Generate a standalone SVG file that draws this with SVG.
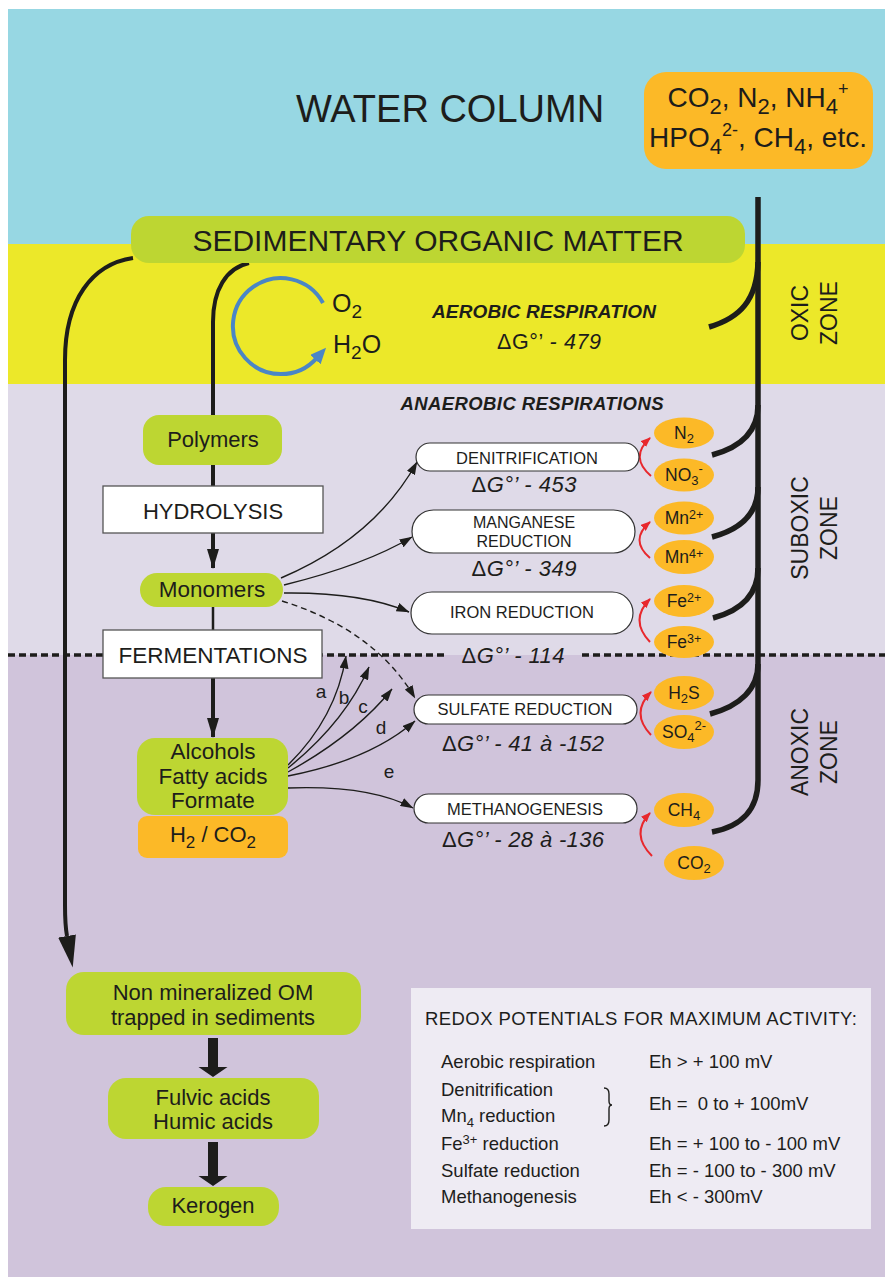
<svg xmlns="http://www.w3.org/2000/svg" width="885" height="1277" viewBox="0 0 885 1277">
<defs>
<style>
.t{font-family:'Liberation Sans',Arial,Helvetica,sans-serif;fill:#1d1d1b;}
.green{fill:#BDD632;}
.orange{fill:#FCB927;}
.pill{fill:#fff;stroke:#333;stroke-width:1.2;}
.box{fill:#fff;stroke:#555;stroke-width:1.3;}
.conn{fill:none;stroke:#1d1d1b;stroke-linecap:butt;}
.thin{stroke-width:1.4;}
.red{fill:none;stroke:#E8282D;stroke-width:2;}
.pt{font-size:16.5px;}
.dg{font-size:22px;}
.gas{font-size:17.5px;}
.tb{font-size:18.5px;}
.zone{font-size:23px;}
</style>
<marker id="ah" markerUnits="userSpaceOnUse" markerWidth="13" markerHeight="9" refX="12.5" refY="4.5" orient="auto" viewBox="0 0 13 9">
<path d="M0,0 L13,4.5 L0,9 z" fill="#1d1d1b"/>
</marker>
<marker id="ahT" markerUnits="userSpaceOnUse" markerWidth="20" markerHeight="12" refX="19" refY="6" orient="auto" viewBox="0 0 20 12">
<path d="M0,0 L20,6 L0,12 z" fill="#1d1d1b"/>
</marker>
<marker id="ahL" markerUnits="userSpaceOnUse" markerWidth="32" markerHeight="18" refX="0" refY="9" orient="auto" viewBox="0 0 32 18">
<path d="M0,0 L32,9 L0,18 z" fill="#1d1d1b"/>
</marker>
<marker id="ahR" markerUnits="userSpaceOnUse" markerWidth="10" markerHeight="8" refX="9" refY="4" orient="auto" viewBox="0 0 10 8">
<path d="M0,0 L10,4 L0,8 z" fill="#E8282D"/>
</marker>
<marker id="ahB" markerUnits="userSpaceOnUse" markerWidth="16" markerHeight="14" refX="2" refY="7" orient="auto" viewBox="0 0 16 14">
<path d="M0,0 L16,7 L0,14 z" fill="#4A86C5"/>
</marker>
</defs>

<g id="background">
<rect x="0" y="0" width="885" height="1277" fill="#ffffff"/>
<rect x="8" y="9" width="877" height="235" fill="#97D7E3"/>
<rect x="8" y="244" width="877" height="140" fill="#ECE829"/>
<rect x="8" y="384" width="877" height="271" fill="#DFDAE8"/>
<rect x="8" y="655" width="877" height="622" fill="#D0C4DB"/>
<g fill="none" stroke="#1d1d1b" stroke-width="3.5" stroke-dasharray="7 4">
<line x1="8" y1="655" x2="446" y2="655"/>
<line x1="582" y1="655" x2="885" y2="655"/>
</g>
</g>

<g id="zone-labels" class="t zone" text-anchor="middle">
<text transform="translate(808,313) rotate(-90)">OXIC</text>
<text transform="translate(837,313) rotate(-90)">ZONE</text>
<text transform="translate(808,528) rotate(-90)">SUBOXIC</text>
<text transform="translate(837,528) rotate(-90)">ZONE</text>
<text transform="translate(808,752) rotate(-90)">ANOXIC</text>
<text transform="translate(837,752) rotate(-90)">ZONE</text>
</g>

<g id="water-column-title">
<text class="t" x="450" y="122" font-size="38" text-anchor="middle">WATER COLUMN</text>
</g>

<g id="connectors">
<path class="conn" stroke-width="5.5" d="M758 197 L758 780 C758 810 742 826 712 832"/>
<path class="conn" stroke-width="5.5" d="M709 327 C740 318 757 300 758 262"/>
<path class="conn" stroke-width="5.5" d="M712 455 C742 447 758 430 758 405"/>
<path class="conn" stroke-width="5.5" d="M712 537 C742 529 758 512 758 487"/>
<path class="conn" stroke-width="5.5" d="M713 618 C743 610 758 593 758 568"/>
<path class="conn" stroke-width="5.5" d="M710 714 C740 706 758 689 758 664"/>
<path class="conn" stroke-width="4" d="M133 258 C92 264 65 300 65 360 L65 905 Q65 925 67 936" marker-end="url(#ahL)"/>
<path class="conn" stroke-width="4" d="M249 263 C226 268 213 290 213 322 L213 415"/>
<path fill="none" stroke="#4A86C5" stroke-width="4" d="M323 303 A48 48 0 1 0 316.7 358.1" marker-end="url(#ahB)"/>
<line class="conn" stroke-width="4" x1="213" y1="465" x2="213" y2="486"/>
<line class="conn" stroke-width="4" x1="213" y1="533" x2="213" y2="568" marker-end="url(#ahT)"/>
<line class="conn" stroke-width="2.5" x1="213" y1="607" x2="213" y2="630"/>
<line class="conn" stroke-width="4" x1="213" y1="678" x2="213" y2="737" marker-end="url(#ahT)"/>
<path class="conn thin" d="M281 578 Q375 538 417 462" marker-end="url(#ah)"/>
<path class="conn thin" d="M284 585 Q365 565 412 537" marker-end="url(#ah)"/>
<path class="conn thin" d="M284 593 Q362 592 409 612" marker-end="url(#ah)"/>
<path class="conn thin" stroke-dasharray="6 4" d="M282 601 Q375 630 415 698" marker-end="url(#ah)"/>
<path class="conn thin" d="M288 765 Q336 718 346 656" marker-end="url(#ah)"/>
<path class="conn thin" d="M288 768 Q345 722 369 667" marker-end="url(#ah)"/>
<path class="conn thin" d="M288 772 Q355 735 392 689" marker-end="url(#ah)"/>
<path class="conn thin" d="M288 776 Q370 760 415 721" marker-end="url(#ah)"/>
<path class="conn thin" d="M288 788 Q370 785 413 808" marker-end="url(#ah)"/>
<path class="red" d="M651 476 Q629 457 650 438" marker-end="url(#ahR)"/>
<path class="red" d="M650 558 Q629 540 650 522" marker-end="url(#ahR)"/>
<path class="red" d="M650 642 Q629 620 650 599" marker-end="url(#ahR)"/>
<path class="red" d="M651 735 Q630 713 651 692" marker-end="url(#ahR)"/>
<path class="red" d="M652 856 Q630 834 650 813" marker-end="url(#ahR)"/>
<polygon fill="#1d1d1b" points="208,1038 218,1038 218,1067 227.5,1067 213,1077 198.5,1067 208,1067"/>
<polygon fill="#1d1d1b" points="208,1142 218,1142 218,1176 227.5,1176 213,1186 198.5,1176 208,1176"/>
</g>

<g id="arrow-labels" class="t" font-size="19" text-anchor="middle">
<text x="321" y="698">a</text>
<text x="344" y="704">b</text>
<text x="363" y="713">c</text>
<text x="381" y="734">d</text>
<text x="389" y="778">e</text>
</g>

<g id="dissolved-products">
<rect class="orange" x="644" y="72" width="229" height="97" rx="22"/>
<text class="t" x="758" y="107" font-size="28" text-anchor="middle">CO<tspan dy="7" font-size="22">2</tspan><tspan dy="-7">, N</tspan><tspan dy="7" font-size="22">2</tspan><tspan dy="-7">, NH</tspan><tspan dy="7" font-size="22">4</tspan><tspan dy="-19" font-size="18">+</tspan></text>
<text class="t" x="758" y="147" font-size="28" text-anchor="middle">HPO<tspan dy="7" font-size="22">4</tspan><tspan dy="-18" font-size="18">2-</tspan><tspan dy="11">, CH</tspan><tspan dy="7" font-size="22">4</tspan><tspan dy="-7">, etc.</tspan></text>
</g>

<g id="sedimentary-organic-matter">
<rect class="green" x="131" y="216" width="614" height="47" rx="18"/>
<text class="t" x="438" y="251" font-size="30" text-anchor="middle">SEDIMENTARY ORGANIC MATTER</text>
</g>

<g id="oxygen-cycle" class="t" font-size="25">
<text x="332" y="312">O<tspan dy="6" font-size="19">2</tspan></text>
<text x="333" y="353">H<tspan dy="6" font-size="19">2</tspan><tspan dy="-6">O</tspan></text>
</g>

<g id="aerobic-respiration" class="t" text-anchor="middle">
<text x="544" y="318" font-size="19" font-weight="bold" font-style="italic" textLength="224">AEROBIC RESPIRATION</text>
<text x="549" y="349" font-size="21.5" textLength="104">ΔG°’ <tspan font-style="italic">- 479</tspan></text>
</g>

<g id="anaerobic-title">
<text class="t" x="532" y="410" font-size="18.5" font-weight="bold" font-style="italic" text-anchor="middle" textLength="263">ANAEROBIC RESPIRATIONS</text>
</g>

<g id="polymers">
<rect class="green" x="143" y="415" width="139" height="50" rx="16"/>
<text class="t" x="213" y="447" font-size="22" text-anchor="middle">Polymers</text>
</g>
<g id="hydrolysis">
<rect class="box" x="103" y="486" width="220" height="47"/>
<text class="t" x="213" y="519" font-size="22" text-anchor="middle">HYDROLYSIS</text>
</g>
<g id="monomers">
<rect class="green" x="140" y="573" width="143" height="34" rx="17"/>
<text class="t" x="212" y="597" font-size="22.5" text-anchor="middle">Monomers</text>
</g>
<g id="fermentations">
<rect class="box" x="103" y="630" width="219" height="48"/>
<text class="t" x="213" y="663" font-size="22.5" text-anchor="middle">FERMENTATIONS</text>
</g>
<g id="fermentation-products">
<rect class="green" x="137" y="738" width="151" height="77" rx="18"/>
<text class="t" x="213" y="759" font-size="22.5" text-anchor="middle">Alcohols</text>
<text class="t" x="213" y="784" font-size="22.5" text-anchor="middle">Fatty acids</text>
<text class="t" x="213" y="808" font-size="22.5" text-anchor="middle">Formate</text>
</g>
<g id="h2-co2">
<rect class="orange" x="138" y="816" width="150" height="42" rx="9"/>
<text class="t" x="213" y="842" font-size="22" text-anchor="middle">H<tspan dy="6" font-size="17">2</tspan><tspan dy="-6"> / CO</tspan><tspan dy="6" font-size="17">2</tspan></text>
</g>

<g id="denitrification">
<rect class="pill" x="416" y="443" width="223" height="28" rx="14"/>
<text class="t pt" x="527" y="464" text-anchor="middle">DENITRIFICATION</text>
<text class="t dg" x="524" y="492" text-anchor="middle" textLength="105">Δ<tspan font-style="italic">G°’ - 453</tspan></text>
</g>
<g id="manganese-reduction">
<rect class="pill" x="412" y="510" width="223" height="43" rx="21.5"/>
<text class="t" x="524" y="528" font-size="16" text-anchor="middle">MANGANESE</text>
<text class="t" x="524" y="547" font-size="16" text-anchor="middle">REDUCTION</text>
<text class="t dg" x="524" y="576" text-anchor="middle" textLength="105">Δ<tspan font-style="italic">G°’ - 349</tspan></text>
</g>
<g id="iron-reduction">
<rect class="pill" x="411" y="592" width="222" height="42" rx="21"/>
<text class="t pt" x="522" y="618" text-anchor="middle">IRON REDUCTION</text>
<text class="t dg" x="513" y="663" text-anchor="middle" textLength="103">Δ<tspan font-style="italic">G°’ - 114</tspan></text>
</g>
<g id="sulfate-reduction">
<rect class="pill" x="414" y="695" width="223" height="29" rx="14.5"/>
<text class="t pt" x="525" y="715" text-anchor="middle">SULFATE REDUCTION</text>
<text class="t dg" x="523" y="751" text-anchor="middle" textLength="162">Δ<tspan font-style="italic">G°’ - 41 à -152</tspan></text>
</g>
<g id="methanogenesis">
<rect class="pill" x="414" y="794" width="223" height="29" rx="14.5"/>
<text class="t pt" x="525" y="815" text-anchor="middle">METHANOGENESIS</text>
<text class="t dg" x="523" y="847" text-anchor="middle" textLength="162">Δ<tspan font-style="italic">G°’ - 28 à -136</tspan></text>
</g>

<g id="gas-n2"><ellipse class="orange" cx="684" cy="433" rx="30" ry="15.5"/><text class="t gas" x="684" y="439" text-anchor="middle">N<tspan dy="4" font-size="13">2</tspan></text></g>
<g id="gas-no3"><ellipse class="orange" cx="684" cy="475" rx="30" ry="16.5"/><text class="t gas" x="684" y="481" text-anchor="middle">NO<tspan dy="4" font-size="13">3</tspan><tspan dy="-12" font-size="13">-</tspan></text></g>
<g id="gas-mn2"><ellipse class="orange" cx="684" cy="518" rx="30" ry="16.5"/><text class="t gas" x="684" y="524" text-anchor="middle">Mn<tspan dy="-5" font-size="12.5">2+</tspan></text></g>
<g id="gas-mn4"><ellipse class="orange" cx="684" cy="557" rx="30" ry="17"/><text class="t gas" x="684" y="563" text-anchor="middle">Mn<tspan dy="-5" font-size="12.5">4+</tspan></text></g>
<g id="gas-fe2"><ellipse class="orange" cx="684" cy="601" rx="30" ry="16"/><text class="t gas" x="684" y="607" text-anchor="middle">Fe<tspan dy="-5" font-size="12.5">2+</tspan></text></g>
<g id="gas-fe3"><ellipse class="orange" cx="684" cy="642" rx="30" ry="16"/><text class="t gas" x="684" y="648" text-anchor="middle">Fe<tspan dy="-5" font-size="12.5">3+</tspan></text></g>
<g id="gas-h2s"><ellipse class="orange" cx="684" cy="693" rx="30" ry="17"/><text class="t gas" x="684" y="699" text-anchor="middle">H<tspan dy="4" font-size="13">2</tspan><tspan dy="-4">S</tspan></text></g>
<g id="gas-so4"><ellipse class="orange" cx="684" cy="732" rx="30" ry="17"/><text class="t gas" x="684" y="738" text-anchor="middle">SO<tspan dy="4" font-size="13">4</tspan><tspan dy="-12" font-size="13">2-</tspan></text></g>
<g id="gas-ch4"><ellipse class="orange" cx="684" cy="810" rx="30" ry="17"/><text class="t gas" x="684" y="816" text-anchor="middle">CH<tspan dy="4" font-size="13">4</tspan></text></g>
<g id="gas-co2"><ellipse class="orange" cx="694" cy="863" rx="30" ry="17"/><text class="t gas" x="694" y="869" text-anchor="middle">CO<tspan dy="4" font-size="13">2</tspan></text></g>

<g id="non-mineralized-om">
<rect class="green" x="66" y="972" width="295" height="63" rx="18"/>
<text class="t" x="213" y="1000" font-size="22" text-anchor="middle">Non mineralized OM</text>
<text class="t" x="213" y="1025" font-size="22" text-anchor="middle">trapped in sediments</text>
</g>
<g id="fulvic-humic">
<rect class="green" x="108" y="1078" width="211" height="61" rx="18"/>
<text class="t" x="213" y="1105" font-size="22" text-anchor="middle">Fulvic acids</text>
<text class="t" x="213" y="1129" font-size="22" text-anchor="middle">Humic acids</text>
</g>
<g id="kerogen">
<rect class="green" x="148" y="1187" width="131" height="39" rx="18"/>
<text class="t" x="213" y="1213" font-size="22" text-anchor="middle">Kerogen</text>
</g>

<g id="redox-table">
<rect x="411" y="988" width="460" height="241" fill="#EEEBF3"/>
<text class="t" x="425" y="1025" font-size="18.5" textLength="432">REDOX POTENTIALS FOR MAXIMUM ACTIVITY:</text>
<g class="t tb">
<text x="441" y="1068">Aerobic respiration</text>
<text x="441" y="1096">Denitrification</text>
<text x="441" y="1122">Mn<tspan dy="5" font-size="13">4</tspan><tspan dy="-5"> reduction</tspan></text>
<text x="441" y="1150">Fe<tspan dy="-6" font-size="13">3+</tspan><tspan dy="6"> reduction</tspan></text>
<text x="441" y="1177">Sulfate reduction</text>
<text x="441" y="1203">Methanogenesis</text>
<text x="649" y="1068">Eh &gt; + 100 mV</text>
<text x="649" y="1110">Eh =&#160; 0 to + 100mV</text>
<text x="649" y="1150">Eh = + 100 to - 100 mV</text>
<text x="649" y="1177">Eh = - 100 to - 300 mV</text>
<text x="649" y="1203">Eh &lt; - 300mV</text>
</g>
<path fill="none" stroke="#1d1d1b" stroke-width="1.4" d="M604 1088 Q609 1088 609 1094 L609 1101 Q609 1105 612 1105 Q609 1105 609 1109 L609 1120 Q609 1126 604 1126"/>
</g>
</svg>
